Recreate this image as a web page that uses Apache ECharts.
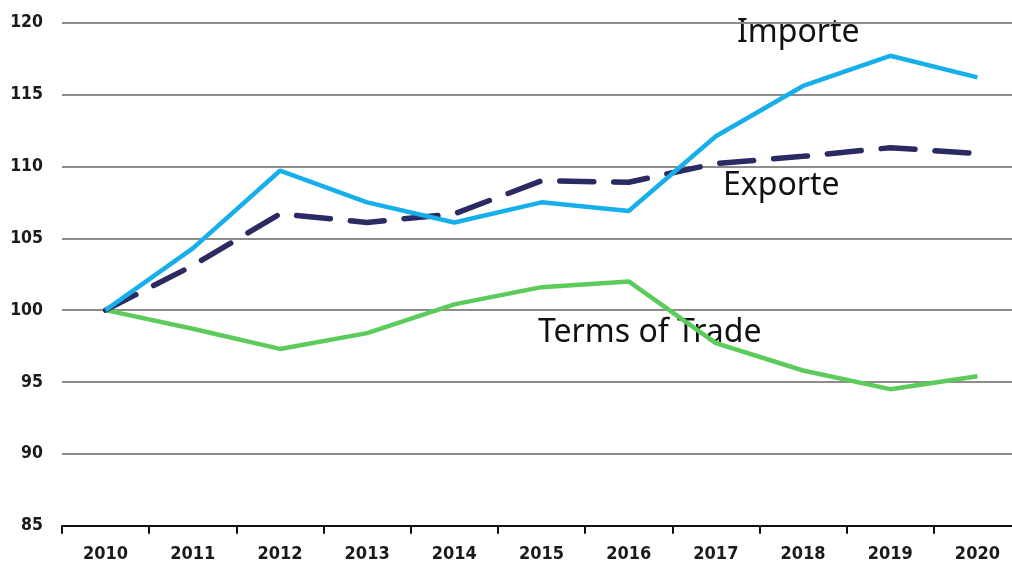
<!DOCTYPE html>
<html>
<head>
<meta charset="utf-8">
<script src="https://cdn.jsdelivr.net/npm/echarts@6/dist/echarts.min.js"></script>
<style>
  html, body { margin: 0; padding: 0; background: #ffffff; }
  #chart { width: 1012px; height: 564px; }
</style>
</head>
<body>
<div id="chart"></div>
<script>
// Jahre (Index 2010 = 100)
const years = ['2010', '2011', '2012', '2013', '2014', '2015', '2016', '2017', '2018', '2019', '2020'];
const importe = [100, 104.3, 109.7, 107.5, 106.1, 107.5, 106.9, 112.1, 115.6, 117.7, 116.2];
const exporte = [100, 103.1, 106.7, 106.1, 106.7, 109.0, 108.9, 110.2, 110.7, 111.3, 110.9];
const termsOfTrade = [100, 98.7, 97.3, 98.4, 100.4, 101.6, 102.0, 97.7, 95.8, 94.5, 95.4];
const yTicks = { min: 85, max: 120, step: 5 };

const tickFont = '"DejaVu Sans Condensed", "Liberation Sans Narrow", "DejaVu Sans", sans-serif';
const noteFont = '"Noto Sans", "Open Sans", sans-serif';

const chart = echarts.init(document.getElementById('chart'), null, { renderer: 'canvas' });

function note(text, x, y) {
  return {
    type: 'text',
    x: x,
    y: y,
    silent: true,
    style: {
      text: text,
      fill: '#111111',
      font: '32px ' + noteFont,
      align: 'left',
      verticalAlign: 'middle'
    }
  };
}

chart.setOption({
  animation: false,
  backgroundColor: '#ffffff',
  // the plot runs a little past the right edge of the canvas
  grid: { left: 62, width: 959, top: 22.7, height: 503, outerBoundsMode: 'none', containLabel: false },
  xAxis: {
    type: 'category',
    data: years,
    boundaryGap: true,
    axisLine: { show: true, lineStyle: { color: '#111111', width: 2 } },
    axisTick: { show: true, length: 8, lineStyle: { color: '#111111', width: 2 } },
    axisLabel: {
      color: '#1a1a1a',
      fontFamily: tickFont,
      fontWeight: 'bold',
      fontSize: 18,
      margin: 20
    },
    splitLine: { show: false }
  },
  yAxis: {
    type: 'value',
    min: yTicks.min,
    max: yTicks.max,
    interval: yTicks.step,
    axisLine: { show: false },
    axisTick: { show: false },
    axisLabel: {
      color: '#1a1a1a',
      fontFamily: tickFont,
      fontWeight: 'bold',
      fontSize: 17.5,
      margin: 19
    },
    splitLine: { show: true, lineStyle: { color: '#8c8c8c', width: 2 } }
  },
  series: [
    {
      name: 'Terms of Trade',
      type: 'line',
      data: termsOfTrade,
      symbol: 'none',
      lineStyle: { color: '#5ccb5c', width: 4.5 }
    },
    {
      name: 'Exporte',
      type: 'line',
      data: exporte,
      symbol: 'none',
      lineStyle: { color: '#2b2a62', width: 5.5, type: [34, 20], cap: 'round' }
    },
    {
      name: 'Importe',
      type: 'line',
      data: importe,
      symbol: 'none',
      lineStyle: { color: '#17afe9', width: 4.5 }
    }
  ],
  graphic: [
    note('Importe', 737, 33),
    note('Exporte', 723, 186),
    note('Terms of Trade', 538, 333)
  ]
});
</script>
</body>
</html>
